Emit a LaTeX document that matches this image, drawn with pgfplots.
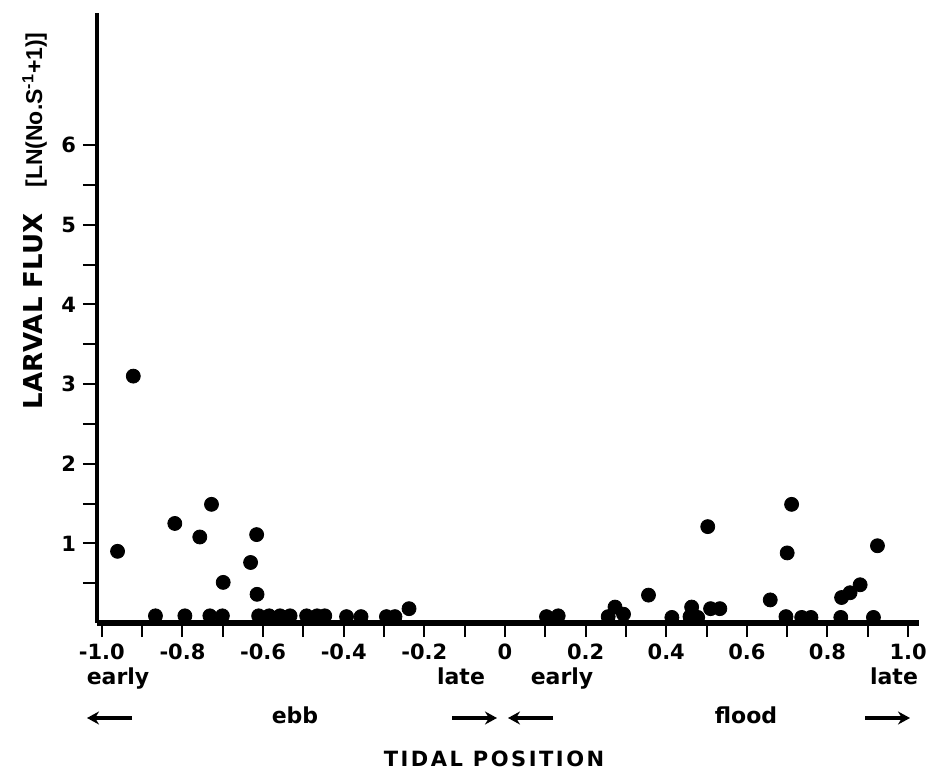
\documentclass[border=0pt]{standalone}
\usepackage{fontspec}
\setmainfont{DejaVu Sans}
\newfontfamily\libfont{Liberation Sans}
\usepackage{pgfplots}
\pgfplotsset{compat=1.18}
\usetikzlibrary{arrows.meta}
\begin{document}
\begin{tikzpicture}
\begin{axis}[
  at={(48.5pt,-311.5pt)}, anchor=south west,
  width=411pt, height=305pt, scale only axis,
  xmin=-1.012, xmax=1.027, ymin=0, ymax=7.66,
  axis x line*=bottom, axis y line*=left,
  x axis line style={line width=2.8pt},
  y axis line style={line width=2pt},
  xtick={-1,-0.8,-0.6,-0.4,-0.2,0,0.2,0.4,0.6,0.8,1},
  xticklabels={-1.0,-0.8,-0.6,-0.4,-0.2,0,0.2,0.4,0.6,0.8,1.0},
  minor xtick={-0.9,-0.7,-0.5,-0.3,-0.1,0.1,0.3,0.5,0.7,0.9},
  ytick={1,2,3,4,5,6},
  minor ytick={0.5,1.5,2.5,3.5,4.5,5.5},
  tick align=outside,
  major tick length=7pt, minor tick length=7pt,
  tick style={line width=1pt, black},
  xticklabel style={font=\bfseries\fontsize{10.5}{12}\selectfont},
  yticklabel style={font=\bfseries\fontsize{10.5}{12}\selectfont},
  /pgf/number format/assume math mode=true,
  clip=false,
]
\addplot[only marks, mark=*, mark size=3.5pt, black] coordinates {
(-0.961,0.90) (-0.922,3.10) (-0.867,0.09) (-0.819,1.25) (-0.794,0.09)
(-0.757,1.08) (-0.728,1.49) (-0.732,0.09) (-0.701,0.09) (-0.699,0.51)
(-0.631,0.76) (-0.616,1.11) (-0.615,0.36) (-0.611,0.09) (-0.585,0.09)
(-0.558,0.09) (-0.533,0.09) (-0.492,0.09) (-0.466,0.09) (-0.447,0.09)
(-0.393,0.08) (-0.357,0.08) (-0.294,0.08) (-0.273,0.08) (-0.238,0.18)
(0.103,0.08) (0.132,0.09) (0.256,0.08) (0.273,0.20) (0.294,0.11)
(0.356,0.35) (0.414,0.07) (0.463,0.20) (0.459,0.08) (0.478,0.07)
(0.503,1.21) (0.510,0.18) (0.533,0.18) (0.658,0.29) (0.697,0.08)
(0.700,0.88) (0.711,1.49) (0.736,0.07) (0.759,0.07) (0.833,0.07)
(0.835,0.32) (0.856,0.38) (0.881,0.48) (0.914,0.07) (0.924,0.97)
};
\end{axis}
\begin{scope}[font=\bfseries\fontsize{11}{13}\selectfont]
\node[anchor=base] at (59pt,-342.5pt) {early};
\node[anchor=base] at (230.5pt,-342.5pt) {late};
\node[anchor=base] at (281pt,-342.5pt) {early};
\node[anchor=base] at (447pt,-342.5pt) {late};
\node[anchor=base] at (147.5pt,-362pt) {ebb};
\node[anchor=base] at (373pt,-362pt) {flood};
\end{scope}
\begin{scope}[line width=1.8pt, -{Stealth[length=6pt,width=6.5pt]}]
\draw (66pt,-359pt) -- (43.5pt,-359pt);
\draw (226pt,-359pt) -- (248.5pt,-359pt);
\draw (276.5pt,-359pt) -- (254pt,-359pt);
\draw (432.5pt,-359pt) -- (455pt,-359pt);
\end{scope}
\node[anchor=base, font=\bfseries\fontsize{10.5}{12}\selectfont\addfontfeatures{LetterSpace=12}] at (247pt,-383.5pt) {TIDAL POSITION};
\node[anchor=base, rotate=90, font=\bfseries\fontsize{13}{15}\selectfont] at (21pt,-155.75pt) {LARVAL FLUX};
\node[anchor=base, rotate=90, font=\libfont\bfseries\fontsize{11.5}{14}\selectfont] at (21pt,-55pt) {[LN(No.S\textsuperscript{-1}+1)]};
\pgfresetboundingbox
\path[use as bounding box] (0pt,0pt) rectangle (466pt,-387pt);
\end{tikzpicture}
\end{document}
